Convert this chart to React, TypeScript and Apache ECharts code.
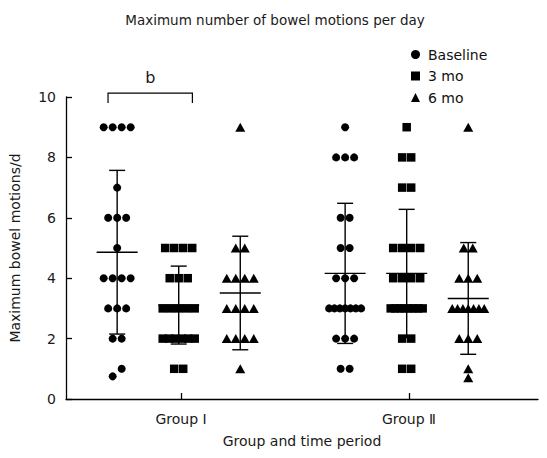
import React, { useEffect, useRef } from "react";
import * as echarts from "echarts";

// ---- Data ----
const GROUPS = ["Group Ⅰ", "Group Ⅱ"];
const PERIODS = ["Baseline", "3 mo", "6 mo"];

const baselineG1 = [9, 9, 9, 9, 7, 6, 6, 6, 5, 4, 4, 4, 4, 3, 3, 3, 2, 2, 1, 0.75];
const threeMoG1 = [5, 5, 5, 5, 4, 4, 4, 3, 3, 3, 3, 3, 2, 2, 2, 2, 2, 2, 1, 1];
const sixMoG1 = [9, 5, 5, 4, 4, 4, 4, 3, 3, 3, 3, 2, 2, 2, 2, 1];

const baselineG2 = [9, 8, 8, 8, 6, 6, 5, 5, 4, 4, 4, 3, 3, 3, 3, 3, 3, 3, 2, 2, 2, 1, 1];
const threeMoG2 = [9, 8, 8, 7, 7, 5, 5, 5, 5, 4, 4, 4, 4, 3, 3, 3, 3, 3, 3, 3, 3, 2, 2, 1, 1];
const sixMoG2 = [9, 5, 5, 4, 4, 4, 3, 3, 3, 3, 3, 3, 3, 2, 2, 2, 1, 0.7];

// mean and SD lines per column (Baseline, 3 mo, 6 mo)
const meanG1 = [4.86, 3.11, 3.51];
const sdG1 = [2.71, 1.29, 1.88];
const meanG2 = [4.16, 4.16, 3.33];
const sdG2 = [2.32, 2.12, 1.85];

const Y_TICKS = [0, 2, 4, 6, 8, 10];
const SIG_LABEL = "b";

// ---- Layout constants ----
const FONT = "DejaVu Sans";
const GRID = { left: 66, right: 9, top: 97, bottom: 59 };
const WIDTH = 547;
const HEIGHT = 458;
const X_MIN = 0.4956;
const X_MAX = 2.566;
const PX_PER_X = (WIDTH - GRID.left - GRID.right) / (X_MAX - X_MIN);
const PX_PER_Y = (HEIGHT - GRID.top - GRID.bottom) / 10;
const COL_OFFSET = [-0.28, -0.01, 0.26];
const BRACKET = { x1: 0.68, x2: 1.05, yLeg: 9.8, yTop: 10.13 };

function layoutColumn(values: number[], center: number): number[][] {
  const sorted = [...values].sort((a, b) => a - b);
  const rows: number[][] = [];
  for (const v of sorted) {
    const last = rows[rows.length - 1];
    if (last && (v - last[0]) * PX_PER_Y < 9) last.push(v);
    else rows.push([v]);
  }
  const pts: number[][] = [];
  for (const row of rows) {
    const n = row.length;
    const s = n <= 4 ? 9 : Math.max(4.5, 32 / (n - 1));
    row.forEach((v, i) => {
      const off = (i - (n - 1) / 2) * s;
      pts.push([center + off / PX_PER_X, v]);
    });
  }
  return pts;
}

export default function App() {
  const ref = useRef<HTMLDivElement>(null);
  useEffect(() => {
    document.body.style.margin = "0";
    if (!ref.current) return;
    const chart = echarts.init(ref.current, undefined, { renderer: "svg" });

    const cols = [
      [baselineG1, baselineG2],
      [threeMoG1, threeMoG2],
      [sixMoG1, sixMoG2],
    ];
    const symbols = ["circle", "rect", "triangle"];
    const sizes: any[] = [8, 8.5, [10, 9]];

    const scatterSeries = PERIODS.map((name, p) => ({
      name,
      type: "scatter",
      symbol: symbols[p],
      symbolSize: sizes[p],
      itemStyle: { color: "#000", opacity: 1 },
      z: 3,
      data: [
        ...layoutColumn(cols[p][0], 1 + COL_OFFSET[p]),
        ...layoutColumn(cols[p][1], 2 + COL_OFFSET[p]),
      ],
    }));

    const errData: number[][] = [];
    [meanG1, meanG2].forEach((means, g) => {
      const sds = g === 0 ? sdG1 : sdG2;
      means.forEach((m, p) => errData.push([g + 1 + COL_OFFSET[p], m, sds[p]]));
    });

    const stroke = { stroke: "#000", lineWidth: 1.4 };

    const option: any = {
      animation: false,
      title: {
        text: "Maximum number of bowel motions per day",
        left: 270,
        textAlign: "center",
        top: 8,
        textStyle: { fontFamily: FONT, fontSize: 13.5, fontWeight: "normal", color: "#1a1a1a" },
      },
      legend: {
        orient: "vertical",
        left: 406,
        top: 42,
        itemGap: 6.5,
        itemWidth: 9,
        itemHeight: 9,
        textStyle: { fontFamily: FONT, fontSize: 14, color: "#111", lineHeight: 15, padding: [0, 0, 0, 3] },
        data: [
          { name: PERIODS[0], icon: "circle" },
          { name: PERIODS[1], icon: "rect" },
          { name: PERIODS[2], icon: "triangle" },
        ],
      },
      grid: { ...GRID },
      xAxis: {
        type: "value",
        min: X_MIN,
        max: X_MAX,
        axisLine: { show: true, onZero: false, lineStyle: { color: "#000", width: 1.3 } },
        axisTick: { show: true, inside: true, length: 6, customValues: [1, 2], lineStyle: { color: "#000", width: 1.3 } },
        axisLabel: {
          customValues: [1, 2],
          formatter: (v: number) => GROUPS[Math.round(v) - 1] ?? "",
          fontFamily: FONT,
          fontSize: 14,
          color: "#1a1a1a",
          margin: 13,
        },
        splitLine: { show: false },
        name: "Group and time period",
        nameLocation: "middle",
        nameGap: 35,
        nameTextStyle: { fontFamily: FONT, fontSize: 14, color: "#1a1a1a" },
      },
      yAxis: {
        type: "value",
        min: Y_TICKS[0],
        max: Y_TICKS[Y_TICKS.length - 1],
        interval: Y_TICKS[1] - Y_TICKS[0],
        axisLine: { show: true, onZero: false, lineStyle: { color: "#000", width: 1.3 } },
        axisTick: { show: true, inside: true, length: 6, lineStyle: { color: "#000", width: 1.3 } },
        axisLabel: { fontFamily: FONT, fontSize: 14, color: "#1a1a1a", margin: 10 },
        splitLine: { show: false },
        name: "Maximum bowel motions/d",
        nameLocation: "middle",
        nameGap: 44,
        nameTextStyle: { fontFamily: FONT, fontSize: 14, color: "#1a1a1a" },
      },
      series: [
        {
          type: "custom",
          name: "meanSD",
          z: 2,
          clip: false,
          data: errData,
          encode: { x: 0, y: 1 },
          renderItem: (_params: any, api: any) => {
            const x = api.value(0);
            const m = api.value(1);
            const s = api.value(2);
            const pm = api.coord([x, m]);
            const pt = api.coord([x, m + s]);
            const pb = api.coord([x, m - s]);
            return {
              type: "group",
              children: [
                { type: "line", shape: { x1: pm[0] - 20.5, y1: pm[1], x2: pm[0] + 20.5, y2: pm[1] }, style: stroke },
                { type: "line", shape: { x1: pt[0], y1: pt[1], x2: pb[0], y2: pb[1] }, style: stroke },
                { type: "line", shape: { x1: pt[0] - 8, y1: pt[1], x2: pt[0] + 8, y2: pt[1] }, style: stroke },
                { type: "line", shape: { x1: pb[0] - 8, y1: pb[1], x2: pb[0] + 8, y2: pb[1] }, style: stroke },
              ],
            };
          },
        },
        {
          type: "custom",
          name: "bracket",
          z: 2,
          clip: false,
          data: [[BRACKET.x1, BRACKET.x2, BRACKET.yLeg, BRACKET.yTop]],
          encode: { x: [0, 1], y: [2, 3] },
          renderItem: (_params: any, api: any) => {
            const a = api.coord([api.value(0), api.value(2)]);
            const b = api.coord([api.value(0), api.value(3)]);
            const c = api.coord([api.value(1), api.value(3)]);
            const d = api.coord([api.value(1), api.value(2)]);
            return {
              type: "group",
              children: [
                {
                  type: "polyline",
                  shape: { points: [a, b, c, d] },
                  style: { stroke: "#000", lineWidth: 1.2, fill: "none" },
                },
                {
                  type: "text",
                  style: {
                    text: SIG_LABEL,
                    x: (b[0] + c[0]) / 2,
                    y: b[1] - 8,
                    align: "center",
                    verticalAlign: "bottom",
                    fontFamily: FONT,
                    fontSize: 16,
                    fill: "#1a1a1a",
                  },
                },
              ],
            };
          },
        },
        ...scatterSeries,
      ],
    };
    chart.setOption(option);
    return () => chart.dispose();
  }, []);
  return <div ref={ref} style={{ width: WIDTH, height: HEIGHT }} />;
}
